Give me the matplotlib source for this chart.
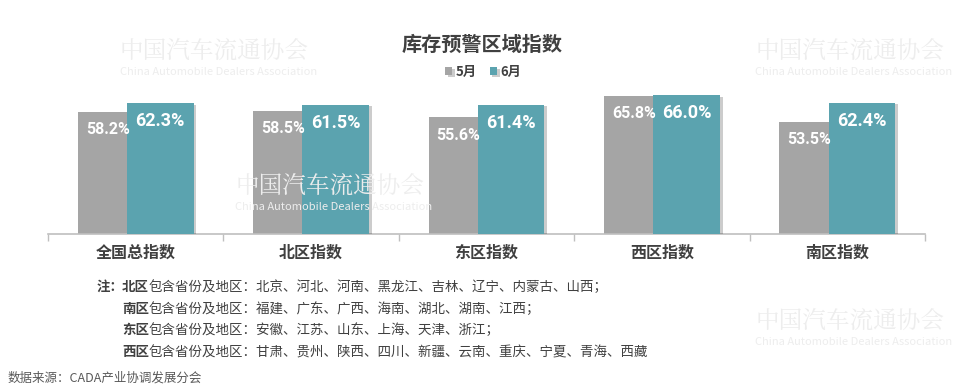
import numpy as np
import matplotlib
matplotlib.use("Agg")
import matplotlib.pyplot as plt
import matplotlib.patheffects as pe

plt.rcParams["font.family"] = ["Noto Sans CJK SC", "DejaVu Sans"]

TITLE = "库存预警区域指数"
CATEGORIES = ["全国总指数", "北区指数", "东区指数", "西区指数", "南区指数"]
SERIES = ["5月", "6月"]
MAY = [58.2, 58.5, 55.6, 65.8, 53.5]
JUNE = [62.3, 61.5, 61.4, 66.0, 62.4]
NOTES = [
    ("北区", "包含省份及地区：北京、河北、河南、黑龙江、吉林、辽宁、内蒙古、山西；"),
    ("南区", "包含省份及地区：福建、广东、广西、海南、湖北、湖南、江西；"),
    ("东区", "包含省份及地区：安徽、江苏、山东、上海、天津、浙江；"),
    ("西区", "包含省份及地区：甘肃、贵州、陕西、四川、新疆、云南、重庆、宁夏、青海、西藏"),
]
SOURCE = "数据来源：CADA产业协调发展分会"

GRAY = "#A5A5A5"
TEAL = "#5BA3AF"
DARK = "#404040"
WM = "#EDEDED"
NUMFONT = ["Roboto", "DejaVu Sans"]

W, H = 960, 392
fig = plt.figure(figsize=(W / 100, H / 100), dpi=100)

# faint watermarks behind the chart
for (wx, wy) in [(120, 50), (755, 50), (235, 185), (755, 320)]:
    fig.text(wx / W, 1 - wy / H, "中国汽车流通协会", fontsize=17, color=WM,
             family=["Noto Serif CJK SC", "Noto Sans CJK SC"], va="center", zorder=0)
    fig.text(wx / W, 1 - (wy + 22) / H, "China Automobile Dealers Association",
             fontsize=8, color=WM, va="center", zorder=0)

# axes: x from 48 to 925 px, baseline at 234 px, 0..70
ax = fig.add_axes([48 / W, 1 - 234 / H, 877 / W, (234 - 87) / H])
ax.patch.set_alpha(0)
x = np.arange(len(CATEGORIES))
bw = 0.38
shadow = [pe.SimplePatchShadow(offset=(2, -1), shadow_rgbFace="#000000", alpha=0.2), pe.Normal()]
b1 = ax.bar(x - 0.14, MAY, bw, color=GRAY, zorder=2, path_effects=shadow)
b2 = ax.bar(x + 0.14, JUNE, bw, color=TEAL, zorder=3, path_effects=shadow)

for i in range(len(x)):
    ax.text(x[i] - 0.16, MAY[i] - 4.9, f"{MAY[i]:.1f}%", ha="center", va="top",
            color="white", fontsize=11.5, fontweight="bold", family=NUMFONT, zorder=4)
    ax.text(x[i] + 0.14, JUNE[i] - 4.2, f"{JUNE[i]:.1f}%", ha="center", va="top",
            color="white", fontsize=13, fontweight="bold", family=NUMFONT, zorder=4)

ax.set_xlim(-0.5, len(x) - 0.5)
ax.set_ylim(0, 70)
for s in ["top", "right", "left"]:
    ax.spines[s].set_visible(False)
ax.spines["bottom"].set_color("#BFBFBF")
ax.spines["bottom"].set_linewidth(1.2)
ax.set_yticks([])
ax.set_xticks(np.arange(len(x) + 1) - 0.5, minor=True)
ax.set_xticks(x)
ax.set_xticklabels(CATEGORIES, fontsize=11.5, fontweight="bold", color=DARK)
ax.tick_params(axis="x", which="major", length=0, pad=8)
ax.tick_params(axis="x", which="minor", length=5, color="#BFBFBF", width=1)

# title and legend
fig.text(482 / W, 1 - 44 / H, TITLE, ha="center", va="center", fontsize=14.5,
         fontweight="bold", color=DARK)
ax.legend([b1, b2], SERIES, loc="center", bbox_to_anchor=(0.496, (234 - 72) / (234 - 87)),
          bbox_transform=ax.transAxes, ncol=2, frameon=False, handlelength=0.55,
          handleheight=0.55, handletextpad=0.25, columnspacing=1.0,
          prop={"size": 9.5, "weight": "bold"}, labelcolor=DARK)

# notes
fig.text(97 / W, 1 - 287 / H, "注：", fontsize=9.7, fontweight="bold", color=DARK, va="center")
for k, (reg, rest) in enumerate(NOTES):
    y = 1 - (287 + 21.7 * k) / H
    t = fig.text(122 / W, y, reg, fontsize=9.7, fontweight="bold", color=DARK, va="center")
    fig.canvas.draw()
    bb = t.get_window_extent()
    fig.text(bb.x1 / W, y, rest, fontsize=9.7, color=DARK, va="center")

fig.text(8 / W, 1 - 378 / H, SOURCE, fontsize=9, color="#595959", va="center")

fig.savefig("out.png", dpi=100)
